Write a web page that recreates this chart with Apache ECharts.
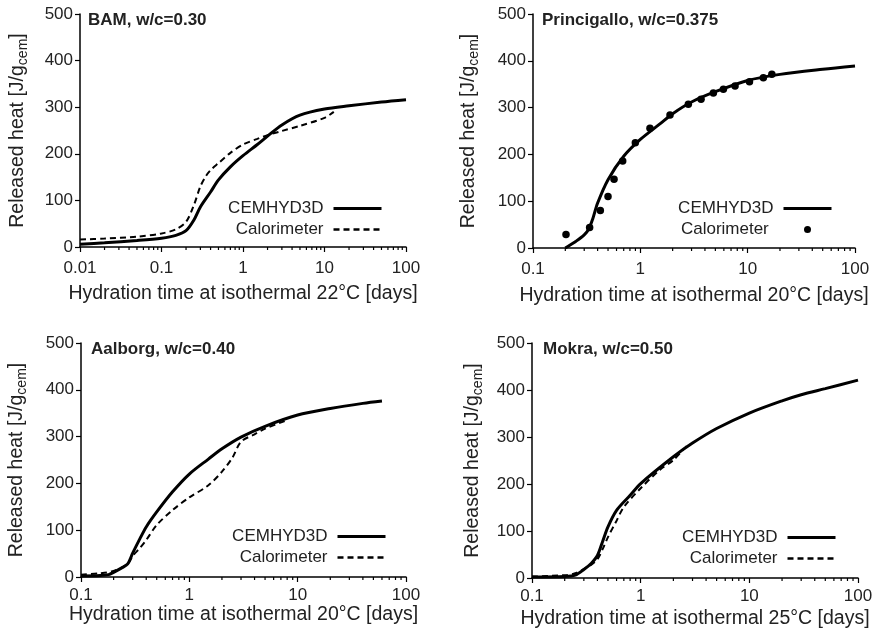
<!DOCTYPE html>
<html>
<head>
<meta charset="utf-8">
<script src="https://cdn.jsdelivr.net/npm/echarts@6/dist/echarts.min.js"></script>
<style>
  html, body { margin: 0; padding: 0; background: #fff; }
  #chart { width: 880px; height: 633px; }
</style>
</head>
<body>
<div id="chart"></div>
<script>
// ---- Panel titles and axis captions ----
const panelTitles = ['BAM, w/c=0.30', 'Princigallo, w/c=0.375', 'Aalborg, w/c=0.40', 'Mokra, w/c=0.50'];
const xAxisNames = [
  'Hydration time at isothermal 22°C [days]',
  'Hydration time at isothermal 20°C [days]',
  'Hydration time at isothermal 20°C [days]',
  'Hydration time at isothermal 25°C [days]'
];
const xMins = [0.01, 0.1, 0.1, 0.1];
const xMax = 100;
const yTicks = [0, 100, 200, 300, 400, 500];
const xTickLabels = ['0.01', '0.1', '1', '10', '100'];

// ---- BAM, w/c = 0.30 : [days, J/g] ----
const bamModel = [[0.01, 6], [0.02, 9], [0.05, 14], [0.1, 19], [0.15, 25], [0.2, 35], [0.25, 58], [0.3, 86],
  [0.4, 118], [0.5, 144], [0.7, 172], [1, 196], [1.5, 220], [2, 238], [3, 262], [5, 283], [10, 296],
  [20, 303], [50, 311], [100, 316]];
const bamCalorimeter = [[0.01, 16], [0.02, 18], [0.05, 22], [0.1, 29], [0.15, 38], [0.2, 54], [0.25, 90],
  [0.3, 130], [0.35, 152], [0.4, 165], [0.5, 180], [0.7, 202], [1, 220], [1.5, 232], [2, 240], [3, 249],
  [5, 260], [10, 277], [13, 290]];

// ---- Princigallo, w/c = 0.375 ----
const princModel = [[0.2, 0], [0.22, 6], [0.25, 14], [0.3, 28], [0.33, 40], [0.36, 62], [0.4, 96],
  [0.5, 146], [0.7, 196], [1, 232], [1.5, 264], [2, 287], [3, 312], [5, 334], [10, 358], [20, 371],
  [50, 382], [100, 389]];
const princCalorimeter = [[0.203, 29], [0.337, 44], [0.424, 80], [0.5, 110], [0.569, 147], [0.685, 186],
  [0.898, 225], [1.23, 256], [1.89, 284], [2.8, 307], [3.68, 318], [4.79, 331], [5.94, 339], [7.63, 346],
  [10.4, 355], [14.0, 364], [16.8, 371]];

// ---- Aalborg, w/c = 0.40 ----
const aalModel = [[0.1, 2], [0.15, 3], [0.18, 5], [0.2, 10], [0.24, 20], [0.27, 28], [0.3, 51], [0.35, 82],
  [0.4, 107], [0.5, 139], [0.7, 182], [1, 220], [1.5, 252], [2, 274], [3, 299], [5, 322], [10, 346],
  [20, 360], [40, 371], [60, 376]];
const aalCalorimeter = [[0.1, 5], [0.15, 8], [0.2, 13], [0.27, 28], [0.3, 45], [0.35, 62], [0.4, 79],
  [0.5, 111], [0.7, 143], [1, 170], [1.5, 196], [2, 225], [2.5, 255], [3, 289], [4, 305], [5, 317], [8, 335]];

// ---- Mokra, w/c = 0.50 ----
const mokModel = [[0.1, 2], [0.2, 3], [0.25, 6], [0.3, 18], [0.35, 31], [0.4, 48], [0.45, 80], [0.5, 109],
  [0.6, 144], [0.8, 176], [1, 201], [2, 258], [3, 287], [5, 318], [10, 351], [20, 377], [30, 390],
  [50, 403], [100, 421]];
const mokCalorimeter = [[0.1, 3], [0.2, 6], [0.25, 10], [0.35, 28], [0.4, 40], [0.45, 63], [0.5, 87],
  [0.6, 122], [0.7, 151], [1, 191], [1.5, 230], [2, 251], [2.8, 287]];

// positions of the 2..9 minor ticks on each log axis
function minorTickValues(min, max) {
  const out = [];
  for (let d = min; d < max * 0.999; d *= 10) {
    for (let k = 2; k <= 9; k++) out.push([+(d * k).toPrecision(3), 0]);
  }
  return out;
}

const grids = [
  { left: 80, top: 14, width: 326, height: 233 },
  { left: 533, top: 14, width: 322, height: 234 },
  { left: 81, top: 343, width: 325, height: 234 },
  { left: 532, top: 343, width: 326, height: 235 }
];
const xNameGaps = [37, 38, 28, 31];
const xLabelMargins = [13, 13, 10, 10];
const yNameGaps = [50, 52, 52, 47];

const textColor = '#222';
const fontFamily = '"Liberation Sans", Arial, Helvetica, sans-serif';

const xAxes = grids.map((g, i) => ({
  type: 'log', logBase: 10, gridIndex: i, min: xMins[i], max: xMax,
  name: xAxisNames[i], nameLocation: 'middle', nameGap: xNameGaps[i],
  nameTextStyle: { fontSize: 19.5, color: textColor, fontFamily },
  axisLine: { lineStyle: { color: '#000', width: 1.5 } },
  axisTick: { show: true, length: 5, lineStyle: { color: '#000', width: 1.2 } },
  axisLabel: {
    color: textColor, fontSize: 17, fontFamily, margin: xLabelMargins[i],
    formatter: v => {
      const s = String(+(+v).toPrecision(3));
      return xTickLabels.includes(s) ? s : '';
    }
  },
  splitLine: { show: false },
  minorTick: { show: false }
}));

const yAxes = grids.map((g, i) => ({
  type: 'value', gridIndex: i, min: yTicks[0], max: yTicks[yTicks.length - 1], interval: 100,
  name: '{a|Released heat [J/g}{s|cem}{a|]}', nameLocation: 'middle', nameGap: yNameGaps[i], nameRotate: 90,
  nameTextStyle: {
    color: textColor, fontFamily,
    rich: {
      a: { fontSize: 19.5, color: textColor, fontFamily },
      s: { fontSize: 14, color: textColor, fontFamily, verticalAlign: 'bottom', padding: [10, 0, 0, 0] }
    }
  },
  axisLine: { show: true, lineStyle: { color: '#000', width: 1.5 } },
  axisTick: { show: true, length: 5, lineStyle: { color: '#000', width: 1.2 } },
  axisLabel: { color: textColor, fontSize: 17, fontFamily, margin: 7 },
  splitLine: { show: false }
}));

const modelSets = [bamModel, princModel, aalModel, mokModel];
const calSets = [bamCalorimeter, princCalorimeter, aalCalorimeter, mokCalorimeter];

const series = [];
modelSets.forEach((data, i) => {
  series.push({
    name: 'CEMHYD3D', type: 'line', xAxisIndex: i, yAxisIndex: i, data,
    smooth: 0.3, showSymbol: false, symbol: 'none',
    lineStyle: { color: '#000', width: 3 }, itemStyle: { color: '#000' }, z: 3
  });
  if (i === 1) {
    series.push({
      name: 'Calorimeter ', type: 'scatter', xAxisIndex: i, yAxisIndex: i, data: calSets[i],
      symbol: 'circle', symbolSize: 7.5, itemStyle: { color: '#000', opacity: 1 }, z: 4
    });
  } else {
    series.push({
      name: 'Calorimeter', type: 'line', xAxisIndex: i, yAxisIndex: i, data: calSets[i],
      smooth: 0.3, showSymbol: false, symbol: 'none',
      lineStyle: { color: '#000', width: 2, type: [6, 4] }, itemStyle: { color: '#000' }, z: 2
    });
  }
  series.push({
    type: 'custom', xAxisIndex: i, yAxisIndex: i, silent: true, z: 5,
    data: minorTickValues(xMins[i], xMax),
    renderItem: (params, api) => {
      const p = api.coord([api.value(0), api.value(1)]);
      return { type: 'line', shape: { x1: p[0], y1: p[1], x2: p[0], y2: p[1] + 3 },
        style: { stroke: '#000', lineWidth: 1.2 } };
    }
  });
});

// one legend per panel, anchored near each panel's lower right
const legendPos = [
  { right: 497, top: 199 },
  { right: 47, top: 199 },
  { right: 493, top: 527 },
  { right: 43, top: 528 }
];
const hiddenMarker = { color: 'rgba(0,0,0,0)', borderWidth: 0, opacity: 0 };
const legends = legendPos.map((p, i) => ({
  orient: 'vertical', align: 'right', right: p.right, top: p.top,
  itemWidth: 48, itemHeight: 7, itemGap: 2, padding: 0,
  lineStyle: { width: 3 },
  data: i === 1
    ? [{ name: 'CEMHYD3D', itemStyle: hiddenMarker }, { name: 'Calorimeter ' }]
    : [{ name: 'CEMHYD3D', itemStyle: hiddenMarker },
       { name: 'Calorimeter', itemStyle: hiddenMarker, lineStyle: { width: 2.5 } }],
  textStyle: { fontSize: 17, color: textColor, fontFamily, width: 100, align: 'right',
    lineHeight: 19, padding: [0, 5, 0, 0] },
  selectedMode: false
}));

const titles = [
  { text: panelTitles[0], left: 88, top: 12 },
  { text: panelTitles[1], left: 542, top: 12 },
  { text: panelTitles[2], left: 91, top: 341 },
  { text: panelTitles[3], left: 543, top: 341 }
].map(t => ({ ...t, padding: 0,
  textStyle: { fontSize: 17, fontWeight: 'bold', color: textColor, fontFamily } }));

const chart = echarts.init(document.getElementById('chart'), null, { renderer: 'canvas' });
chart.setOption({
  animation: false,
  backgroundColor: '#fff',
  title: titles,
  grid: grids,
  xAxis: xAxes,
  yAxis: yAxes,
  legend: legends,
  series
});
</script>
</body>
</html>
